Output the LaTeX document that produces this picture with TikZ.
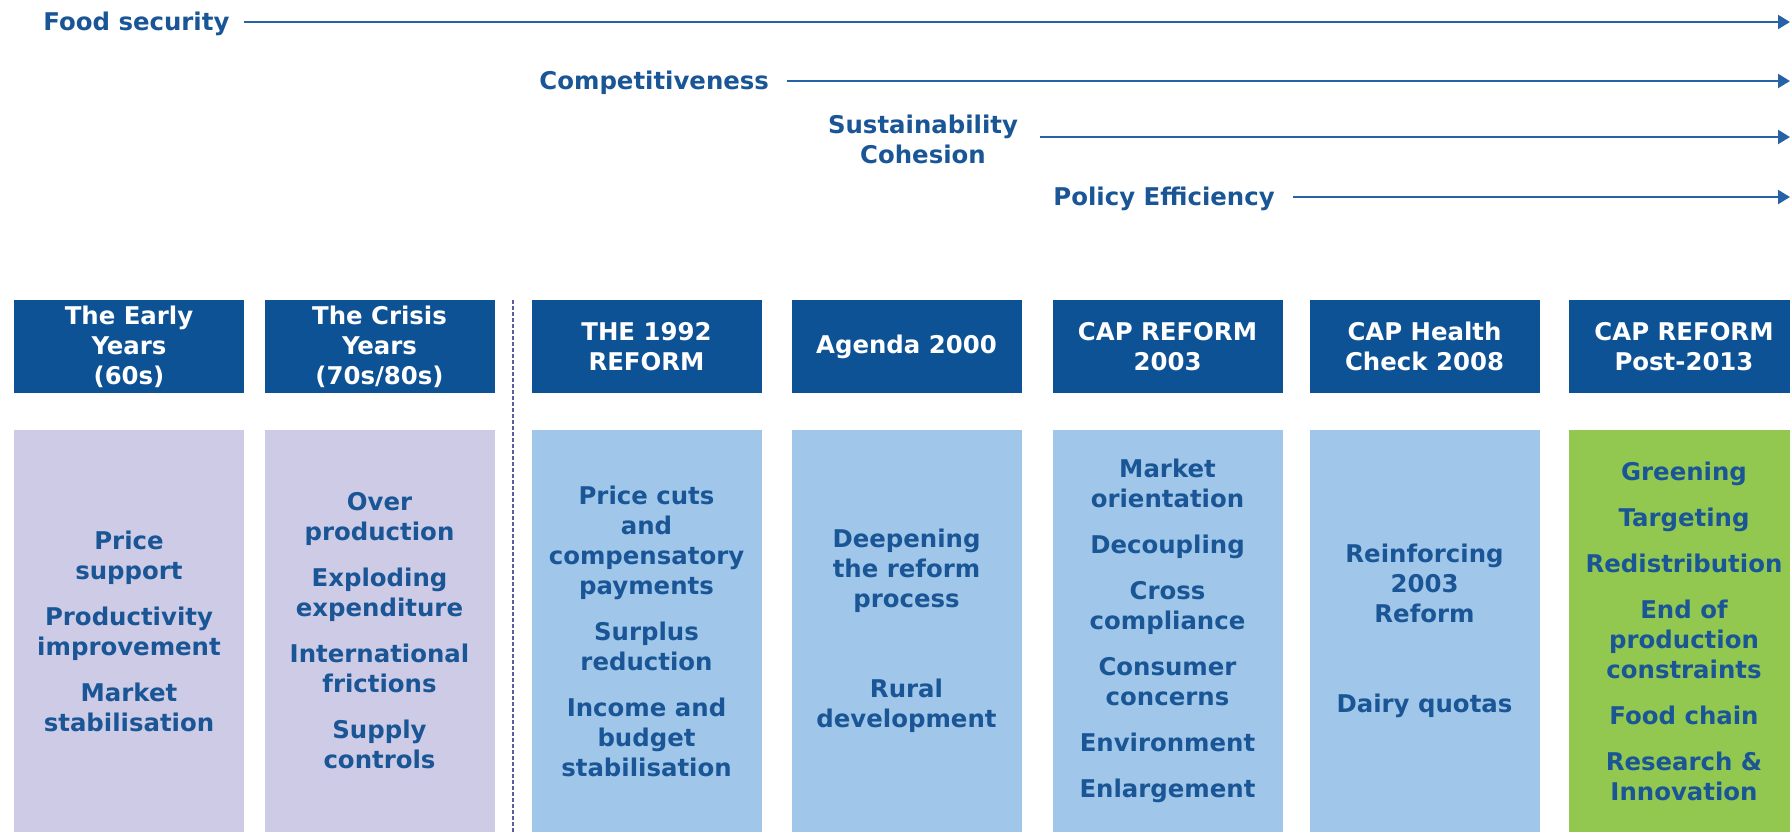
\documentclass[tikz,border=0pt]{standalone}
\usepackage{fontspec}
\setmainfont{DejaVu Sans}
\usetikzlibrary{arrows.meta}
\definecolor{capnavy}{RGB}{14,82,150}
\definecolor{captext}{RGB}{26,86,150}
\definecolor{capline}{RGB}{40,98,166}
\definecolor{capdots}{RGB}{92,92,160}
\definecolor{caplilac}{RGB}{205,203,230}
\definecolor{capsky}{RGB}{160,199,234}
\definecolor{capgreen}{RGB}{146,200,80}

\begin{document}
\begin{tikzpicture}[x=0.5pt,y=-0.5pt,>={Triangle[length=6pt,width=7pt]},
  every node/.style={font=\bfseries\fontsize{12.2}{15}\selectfont},
  topic/.style={text=captext,inner sep=0pt,align=center},
  goal/.style={->,capline,line width=1.1pt,shorten <=7pt},
  period/.style={fill=capnavy,text=white,minimum width=115pt,minimum height=46.5pt,align=center,inner sep=0pt},
  theme/.style={minimum width=115pt,minimum height=201pt,text=captext,align=center,inner sep=0pt}]
\useasboundingbox (0,0) rectangle (1790,832);
\clip (0,0) rectangle (1790,832);

% Objectives
\node[topic,anchor=base west] (fs) at (43,30) {Food security};
\node[topic,anchor=base west] (cp) at (539,89) {Competitiveness};
\node[topic] (sc) at (923,139) {Sustainability\\Cohesion};
\node[topic,anchor=base west] (pe) at (1053,205) {Policy Efficiency};
\coordinate (fsend) at (1790,22);
\coordinate (cpend) at (1790,81);
\coordinate (scend) at (1790,137);
\coordinate (peend) at (1790,197);
\draw[goal] (fs.east |- fsend) -- (fsend);
\draw[goal,shorten <=9pt] (cp.east |- cpend) -- (cpend);
\draw[goal,shorten <=11pt] (sc.east |- scend) -- (scend);
\draw[goal,shorten <=9pt] (pe.east |- peend) -- (peend);

% Periods
\foreach \x/\t [count=\i] in {129/{The Early\\Years\\(60s)}, 379.5/{The Crisis\\Years\\(70s/80s)},
  646.5/{THE 1992\\REFORM}, 906.5/{Agenda 2000}, 1167.5/{CAP REFORM\\2003},
  1424.5/{CAP Health\\Check 2008}, 1684/{CAP REFORM\\Post-2013}}
  \node[period] (h\i) at (\x,346.5) {\t};

% Separator
\draw[capdots,line width=0.6pt,dash pattern=on 2pt off 1pt] (513,300) -- (513,832);

% Themes
\node[theme,fill=caplilac] (b1) at (129,631) {Price\\support\\[8pt]Productivity\\improvement\\[8pt]Market\\stabilisation};
\node[theme,fill=caplilac] (b2) at (379.5,631) {Over\\production\\[8pt]Exploding\\expenditure\\[8pt]International\\frictions\\[8pt]Supply\\controls};
\node[theme,fill=capsky] (b3) at (646.5,631) {Price cuts\\and\\compensatory\\payments\\[8pt]Surplus\\reduction\\[8pt]Income and\\budget\\stabilisation};
\node[theme,fill=capsky] (b4) at (906.5,631) {Deepening\\the reform\\process\\[30pt]Rural\\development};
\node[theme,fill=capsky] (b5) at (1167.5,631) {Market\\orientation\\[8pt]Decoupling\\[8pt]Cross\\compliance\\[8pt]Consumer\\concerns\\[8pt]Environment\\[8pt]Enlargement};
\node[theme,fill=capsky] (b6) at (1424.5,631) {Reinforcing\\2003\\Reform\\[30pt]Dairy quotas};
\node[theme,fill=capgreen] (b7) at (1684,631) {Greening\\[8pt]Targeting\\[8pt]Redistribution\\[8pt]End of\\production\\constraints\\[8pt]Food chain\\[8pt]Research \&\\Innovation};
\end{tikzpicture}
\end{document}
